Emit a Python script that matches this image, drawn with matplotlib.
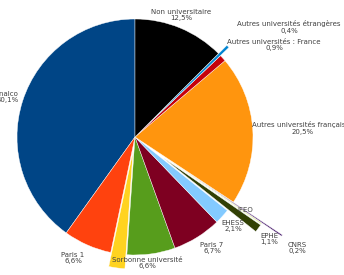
import matplotlib.pyplot as plt

# -- data (counter-clockwise from 12 o'clock) --
names = ["Inalco", "Paris 1", "Paris 3", "Sorbonne université", "Paris 7",
         "EHESS", "EPHE", "IFEO", "CNRS",
         "Autres universités françaises", "Autres universités : France",
         "Autres universités étrangères", "Non universitaire"]
shares = [40.1, 6.6, 2.2, 6.6, 6.7, 2.1, 1.1, 0.1, 0.2, 20.5, 0.9, 0.4, 12.5]
show_value = [True] * 7 + [False] + [True] * 5

# -- styling / layout --
colors = ["#004586", "#ff420e", "#ffd320", "#579d1c", "#7e0021", "#83caff",
          "#314004", "#aecf00", "#4b1f6f", "#ff950e", "#c5000b", "#0084d1",
          "#000000"]
explode = [0, 0, 0.12, 0, 0, 0, 0.3, 0.3, 0.5, 0, 0, 0.1, 0]
# label centres in pixels (x from left, y from top)
label_px = [(8, 97), (73, 258), (120, 281), (147, 263), (212, 248),
            (233, 226), (269, 239), (245, 210), (297, 248),
            (303, 128), (274, 45), (289, 27), (181, 15)]

W, H = 344, 275
cx, cy, R = 135, 137, 118

fig = plt.figure(figsize=(W / 100, H / 100), dpi=100)
ax = fig.add_axes([0, 0, 1, 1])
ax.pie(shares, colors=colors, explode=explode, startangle=90,
       counterclock=True, radius=1,
       wedgeprops=dict(edgecolor="white", linewidth=0.3))
ax.set_aspect("auto")
ax.set_xlim(-cx / R, (W - cx) / R)
ax.set_ylim(-(H - cy) / R, cy / R)
ax.axis("off")

for name, v, show, (px, py) in zip(names, shares, show_value, label_px):
    txt = name + ("\n" + f"{v:.1f}%".replace(".", ",") if show else "")
    fig.text(px / W, 1 - py / H, txt, ha="center", va="center",
             fontsize=5, color="#404040", linespacing=1.1)

fig.savefig("out.png", dpi=100)
